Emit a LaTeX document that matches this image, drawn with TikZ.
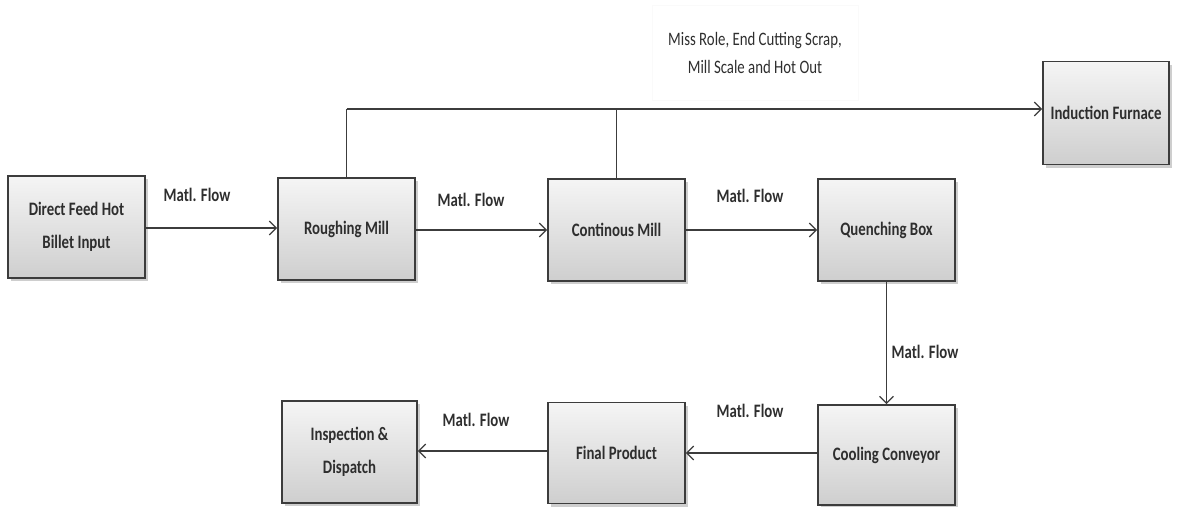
\documentclass[tikz,border=0pt]{standalone}
\usepackage{fontspec}
\setmainfont{Carlito}[FakeStretch=0.78]
\usetikzlibrary{arrows.meta,shadows}
\definecolor{boxline}{HTML}{3C3C3C}
\definecolor{txt}{HTML}{2E2E2E}
\tikzset{
  procbox/.style={draw=boxline, line width=1.6pt, top color=gray!8, bottom color=gray!38,
    minimum width=137pt, minimum height=102pt, align=center, text=txt,
    font=\fontsize{19}{33}\selectfont\bfseries, inner sep=2pt,
    drop shadow={shadow xshift=2.5pt, shadow yshift=-3pt, fill=gray!55, opacity=0.7}},
  flowlbl/.style={text=txt, font=\fontsize{19}{22}\selectfont\bfseries, inner sep=0pt},
  flow/.style={draw=boxline, line width=1.3pt, -{Straight Barb[length=7pt,width=14pt,line width=1.3pt]}},
  plain/.style={draw=boxline, line width=1.1pt}
}
\begin{document}
\begin{tikzpicture}[x=1pt,y=-1pt]
\useasboundingbox (0,0) rectangle (1183,506);
% boxes
\node[procbox] (direct) at (76.5,227) {Direct Feed Hot\\Billet Input};
\node[procbox] (rough) at (346.5,229) {Roughing Mill};
\node[procbox] (cont) at (616.5,230) {Continous Mill};
\node[procbox] (quench) at (886.5,230) {Quenching Box};
\node[procbox, minimum width=126pt, minimum height=103pt] (induct) at (1106,113) {Induction Furnace};
\node[procbox, minimum height=100pt] (cool) at (886.5,455) {Cooling Conveyor};
\node[procbox, minimum height=101pt] (final) at (616.5,453) {Final Product};
\node[procbox, minimum width=135pt] (insp) at (349.5,452) {Inspection \&\\Dispatch};
% scrap label
\node[draw=gray!4, minimum width=206pt, minimum height=95pt, align=center, text=txt,
  font=\fontsize{19}{28}\selectfont] (scrap) at (755,53) {Miss Role, End Cutting Scrap,\\Mill Scale and Hot Out};
% top line
\coordinate (j1) at (346.5,109);
\coordinate (j2) at (616.5,109);
\draw[plain] (rough.north) -- (j1);
\draw[plain] (cont.north) -- (j2);
\draw[flow] (j1) -- (j2) -- (induct.west |- j1);
% flows
\draw[flow] (direct.east |- 0,228) -- (rough.west |- 0,228);
\draw[flow] (rough.east |- 0,230) -- (cont.west |- 0,230);
\draw[flow] (cont.east |- 0,230) -- (quench.west |- 0,230);
\draw[flow] (quench.south) -- (cool.north);
\draw[flow] (cool.west |- 0,453) -- (final.east |- 0,453);
\draw[flow] (final.west |- 0,451) -- (insp.east |- 0,451);
% labels
\node[flowlbl] (l1) at (197,195) {Matl. Flow};
\node[flowlbl] (l2) at (471,200) {Matl. Flow};
\node[flowlbl] (l3) at (750,196) {Matl. Flow};
\node[flowlbl] (l4) at (925,352) {Matl. Flow};
\node[flowlbl] (l5) at (750,411) {Matl. Flow};
\node[flowlbl] (l6) at (476,420) {Matl. Flow};
\end{tikzpicture}
\end{document}
